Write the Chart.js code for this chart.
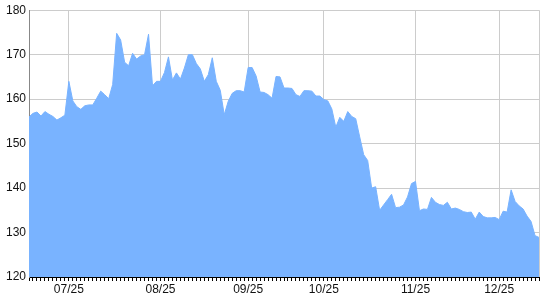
<!DOCTYPE html>
<html>
<head>
<meta charset="utf-8">
<script src="https://cdn.jsdelivr.net/npm/chart.js@4"></script>
<style>
html,body{margin:0;padding:0;background:#fff;}
#wrap{width:540px;height:300px;}
</style>
</head>
<body>
<div id="wrap"><canvas id="c" width="540" height="300"></canvas></div>
<script>
// Month tick labels and the index of the first trading day of each month
const monthLabels = ['07/25','08/25','09/25','10/25','11/25','12/25'];
const monthStartIndex = [10,33,55,74,97,118];

// Daily closing prices (trading days)
const prices = [
  156.0,156.8,157.1,156.2,157.2,156.6,156.1,155.3,155.8,156.4,
  164.0,159.6,158.3,157.7,158.5,158.7,158.7,160.2,161.8,161.0,
  160.1,163.3,174.8,173.3,168.3,167.5,170.3,169.0,169.7,170.0,
  174.6,163.0,164.0,164.0,166.0,169.5,164.3,165.9,164.5,167.0,
  170.0,170.0,168.0,166.8,164.0,165.5,169.3,164.0,162.0,156.5,
  159.5,161.3,161.9,161.9,161.6,167.1,167.1,165.2,161.6,161.5,
  161.0,160.2,165.1,165.0,162.5,162.5,162.4,161.0,160.6,161.9,
  161.9,161.8,160.7,160.7,159.9,159.6,157.8,153.7,155.9,155.0,
  157.2,156.1,155.6,151.5,147.5,146.2,140.0,140.3,135.0,136.2,
  137.4,138.6,135.6,135.7,136.2,138.0,141.0,141.5,134.9,135.3,
  135.2,137.9,136.8,136.3,136.1,136.8,135.3,135.5,135.2,134.7,
  134.5,134.6,133.0,134.6,133.6,133.3,133.3,133.4,132.9,134.8,
  134.6,139.6,137.0,136.0,135.3,133.7,132.5,129.3,128.9
];

const yMin = 120, yMax = 180, yStep = 10;

// category labels: month label on first trading day of month, blank otherwise
const categories = prices.map((_, i) => {
  const k = monthStartIndex.indexOf(i);
  return k >= 0 ? monthLabels[k] : '';
});

const font = {family: "'Liberation Sans', Arial, sans-serif", size: 12};

new Chart(document.getElementById('c'), {
  type: 'line',
  data: {
    labels: categories,
    datasets: [{
      data: prices,
      fill: 'start',
      backgroundColor: '#79b3ff',
      borderColor: '#79b3ff',
      borderWidth: 1,
      pointRadius: 0,
      tension: 0
    }]
  },
  options: {
    responsive: false,
    animation: false,
    layout: {padding: {top: 6, right: 1, left: 0, bottom: 0}},
    plugins: {legend: {display: false}, tooltip: {enabled: false}},
    scales: {
      x: {
        type: 'category',
        offset: false,
        border: {color: '#000', width: 1},
        grid: {
          color: ctx => (categories[ctx.index] || ctx.index === prices.length - 1) ? '#cccccc' : 'rgba(0,0,0,0)',
          tickColor: '#000',
          tickLength: 4,
          drawTicks: true
        },
        ticks: {
          autoSkip: false,
          maxRotation: 0,
          minRotation: 0,
          padding: 1,
          color: '#111',
          font: font,
          callback: (v, i) => categories[i]
        },
        afterFit: s => { s.height = 23; }
      },
      y: {
        min: yMin, max: yMax,
        border: {color: '#888', width: 1},
        grid: {color: '#cccccc', drawTicks: false},
        ticks: {stepSize: yStep, color: '#111', font: font, padding: 3},
        afterFit: s => { s.width = 29; }
      }
    }
  }
});
</script>
</body>
</html>
